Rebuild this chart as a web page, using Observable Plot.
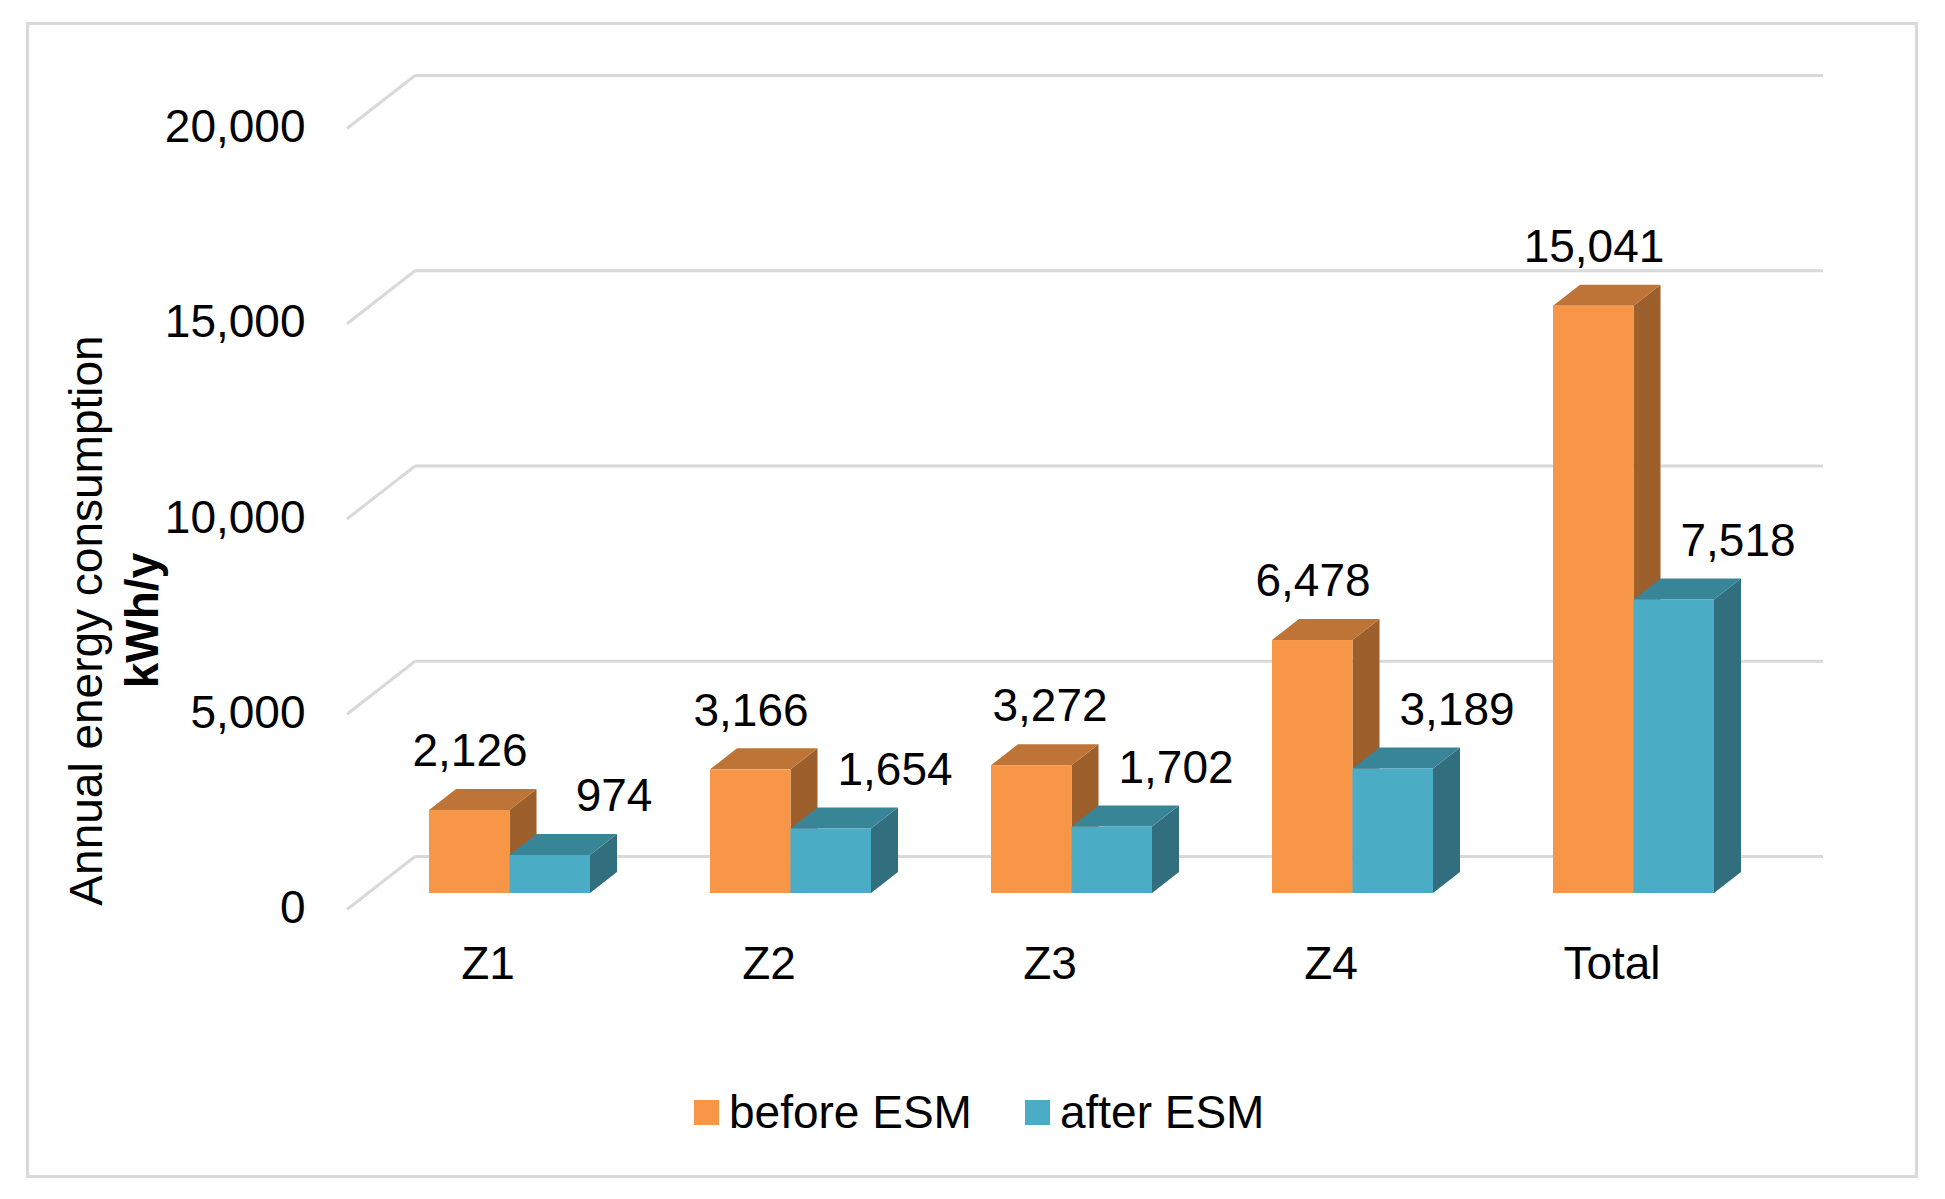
<!DOCTYPE html>
<html>
<head>
<meta charset="utf-8">
<script src="https://cdn.jsdelivr.net/npm/d3@7"></script>
<script src="https://cdn.jsdelivr.net/npm/@observablehq/plot@0.6"></script>
<style>
  html, body { margin: 0; padding: 0; background: #fff; }
  #wrap { position: relative; width: 1945px; height: 1199px; font-family: "Liberation Sans", Arial, sans-serif; }
  #frame { position: absolute; left: 26px; top: 22px; width: 1886px; height: 1150px; border: 3px solid #d9d9d9; }
  #chart { position: absolute; left: 0; top: 0; }
  #legend { position: absolute; left: 694px; top: 1087px; height: 50px; display: flex; align-items: center; font-size: 46px; color: #000; }
  .sw { width: 25px; height: 25px; margin-right: 10px; }
  .item { display: flex; align-items: center; margin-right: 53px; }
</style>
</head>
<body>
<div id="wrap">
  <div id="frame"></div>
  <div id="chart"></div>
  <div id="legend"></div>
</div>
<script>
// ---- data ----
const categories = ["Z1", "Z2", "Z3", "Z4", "Total"];
const beforeESM = [2126, 3166, 3272, 6478, 15041];
const afterESM = [974, 1654, 1702, 3189, 7518];
const yTicks = [0, 5000, 10000, 15000, 20000];
const seriesNames = ["before ESM", "after ESM"];
const yTitle = "Annual energy consumption";
const yUnit = "kWh/y";

// ---- styling ----
const colors = {
  before: {front: "#F79646", top: "#BE7436", side: "#9D5F2C"},
  after: {front: "#4BACC6", top: "#398598", side: "#326F7E"}
};
const DX = 27, DY = 21;
const FONT = "'Liberation Sans', Arial, sans-serif";
const fmt = d3.format(",");
const shiftedLabel = "Z3"; // this data label sits a little to the right in the original

const data = categories.map((c, i) => ({cat: c, before: beforeESM[i], after: afterESM[i]}));

// adds top & side faces from the rects Plot drew
function extrude(topColor, sideColor) {
  return function(index, scales, values, dimensions, context, next) {
    const g = next(index, scales, values, dimensions, context);
    d3.select(g).selectAll("rect").each(function() {
      const r = d3.select(this);
      const x = +r.attr("x"), y = +r.attr("y"), w = +r.attr("width"), h = +r.attr("height");
      const top = [[x, y], [x + DX, y - DY], [x + w + DX, y - DY], [x + w, y]];
      const side = [[x + w, y], [x + w + DX, y - DY], [x + w + DX, y + h - DY], [x + w, y + h]];
      g.insertBefore(polygon(side, sideColor), this);
      g.insertBefore(polygon(top, topColor), this);
    });
    return g;
  };
}
function polygon(pts, fill) {
  const p = document.createElementNS("http://www.w3.org/2000/svg", "polygon");
  p.setAttribute("points", pts.map(d => d.join(",")).join(" "));
  p.setAttribute("fill", fill);
  return p;
}
// turns left stubs of the gridlines into the diagonal side-wall lines
function diagonal(index, scales, values, dimensions, context, next) {
  const g = next(index, scales, values, dimensions, context);
  d3.select(g).selectAll("line").each(function() {
    const l = d3.select(this);
    l.attr("y1", +l.attr("y1") + 53);
  });
  return g;
}

const W = 1945, H = 1060;
const half = 80.5;

const plot = Plot.plot({
  width: W,
  height: H,
  margin: 0,
  style: {fontFamily: FONT, fontSize: "46px", background: "transparent", color: "#000"},
  x: {domain: categories, range: [427.8, 1715.3], paddingInner: 0.428, paddingOuter: 0, axis: null},
  y: {domain: [0, 20000], range: [893, 112], axis: null},
  marks: [
    // back-wall gridlines
    Plot.ruleY(yTicks, {y: d => d, dy: -37, insetLeft: 415, insetRight: W - 1823, stroke: "#d9d9d9", strokeWidth: 3}),
    // side-wall diagonals
    Plot.ruleY(yTicks, {y: d => d, dy: -37, insetLeft: 347, insetRight: W - 415, stroke: "#d9d9d9", strokeWidth: 3, render: diagonal}),
    // y tick labels
    Plot.text(yTicks, {y: d => d, text: d => fmt(d), frameAnchor: "left", dx: 305, dy: 15, textAnchor: "end", fontSize: 46, fill: "#000"}),
    // bars
    Plot.barY(data, {x: "cat", y: "before", insetRight: half, fill: colors.before.front, render: extrude(colors.before.top, colors.before.side)}),
    Plot.barY(data, {x: "cat", y: "after", insetLeft: half, fill: colors.after.front, render: extrude(colors.after.top, colors.after.side)}),
    // value labels
    Plot.text(data, {filter: d => d.cat !== shiftedLabel, x: "cat", y: "before", text: d => fmt(d.before), dx: -40, dy: -59, fontSize: 46, fill: "#000"}),
    Plot.text(data, {filter: d => d.cat === shiftedLabel, x: "cat", y: "before", text: d => fmt(d.before), dx: -22, dy: -59, fontSize: 46, fill: "#000"}),
    Plot.text(data, {x: "cat", y: "after", text: d => fmt(d.after), dx: 104, dy: -59, fontSize: 46, fill: "#000"}),
    // category labels
    Plot.text(data, {x: "cat", y: () => 0, text: "cat", dx: -22, dy: 71, fontSize: 46, fill: "#000"}),
    // y title
    Plot.text([yTitle], {text: d => d, frameAnchor: "left", textAnchor: "middle", rotate: -90, dx: 87, dy: 90, fontSize: 46, fill: "#000"}),
    Plot.text([yUnit], {text: d => d, frameAnchor: "left", textAnchor: "middle", rotate: -90, dx: 143, dy: 90, fontSize: 46, fontWeight: "bold", fill: "#000"})
  ]
});
document.getElementById("chart").appendChild(plot);

// legend
const legend = document.getElementById("legend");
const legendColors = [colors.before.front, colors.after.front];
seriesNames.forEach((name, i) => {
  const item = document.createElement("div");
  item.className = "item";
  const sw = document.createElement("div");
  sw.className = "sw";
  sw.style.background = legendColors[i];
  const t = document.createElement("span");
  t.textContent = name;
  item.appendChild(sw);
  item.appendChild(t);
  legend.appendChild(item);
});
</script>
</body>
</html>
